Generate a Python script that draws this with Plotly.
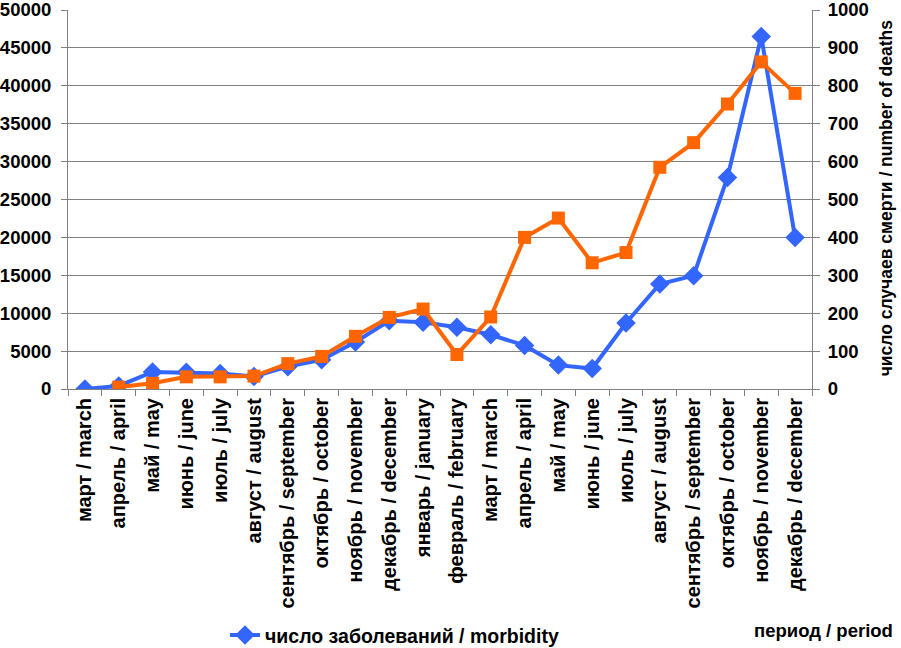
import plotly.graph_objects as go

months = ["март / march", "апрель / april", "май / may", "июнь / june", "июль / july",
          "август / august", "сентябрь / september", "октябрь / october", "ноябрь / november",
          "декабрь / december", "январь / january", "февраль / february",
          "март / march", "апрель / april", "май / may", "июнь / june", "июль / july",
          "август / august", "сентябрь / september", "октябрь / october", "ноябрь / november",
          "декабрь / december"]

morbidity = [0, 400, 2250, 2200, 2050, 1650, 2950, 3850, 6200, 9000, 8800, 8150,
             7150, 5750, 3150, 2700, 8700, 13850, 14950, 27900, 46500, 20000]

deaths = [None, 5, 15, 32, 32, 34, 67, 86, 139, 189, 211, 91,
          190, 400, 451, 333, 360, 585, 650, 752, 863, 780]

left_ticks = list(range(0, 50001, 5000))
right_ticks = list(range(0, 1001, 100))

idx = list(range(len(months)))
BLUE = "#3366FF"
ORANGE = "#FF6600"
FAM = "Liberation Sans, Arial, sans-serif"
FONT_X = dict(family=FAM, size=20, color="black", weight="bold")
FONT_Y = dict(family=FAM, size=18.5, color="black", weight="bold")
FONT_T = dict(family=FAM, size=17.5, color="black", weight="bold")
FONT_P = dict(family=FAM, size=18.5, color="black", weight="bold")
FONT_L = dict(family=FAM, size=19.5, color="black", weight="bold")

fig = go.Figure()
fig.add_trace(go.Scatter(
    x=idx, y=morbidity, mode="lines+markers", name="число заболеваний / morbidity",
    line=dict(color=BLUE, width=4), marker=dict(symbol="diamond", size=15, color=BLUE),
    yaxis="y"))
fig.add_trace(go.Scatter(
    x=idx, y=deaths, mode="lines+markers", name="число случаев смерти / number of deaths",
    line=dict(color=ORANGE, width=4), marker=dict(symbol="square", size=13, color=ORANGE),
    yaxis="y2", showlegend=False))

fig.update_layout(
    width=901, height=648,
    margin=dict(l=68, r=89, t=10, b=259, autoexpand=False),
    paper_bgcolor="white", plot_bgcolor="white",
    font=FONT_X,
    xaxis=dict(range=[-0.5, len(months) - 0.5], tickvals=idx, ticktext=months,
               tickangle=-90, ticks="", showgrid=False, zeroline=False,
               showline=True, linecolor="#808080", linewidth=1, automargin=False,
               tickfont=FONT_X,
               minor=dict(tick0=-0.5, dtick=1, ticks="outside", ticklen=6,
                          tickcolor="#808080", showgrid=False)),
    yaxis=dict(range=[0, 50001], tickvals=left_ticks, ticktext=[str(v) for v in left_ticks],
               ticks="outside", ticklen=6, ticklabeloverflow="allow", automargin=False,
               tickcolor="#808080", showline=True, linecolor="#808080", linewidth=1,
               gridcolor="#808080", gridwidth=1, zeroline=False, tickfont=FONT_Y,
               ticklabelstandoff=6),
    yaxis2=dict(range=[0, 1000.02], tickvals=right_ticks, ticktext=[str(v) for v in right_ticks],
                overlaying="y", side="right", ticklabeloverflow="allow", automargin=False,
                ticks="outside", ticklen=7, tickcolor="#808080", showline=True,
                linecolor="#808080", linewidth=1, showgrid=False, zeroline=False,
                tickfont=FONT_Y, ticklabelstandoff=4),
    showlegend=True,
    legend=dict(orientation="h", x=0.211, xanchor="left", y=-0.65, yanchor="middle",
                font=FONT_L, bgcolor="rgba(0,0,0,0)"),
    annotations=[
        dict(text="период / period", xref="paper", yref="paper", x=1.1116, y=-0.637,
             xanchor="right", yanchor="middle", showarrow=False, font=FONT_P),
        dict(text="число случаев смерти / number of deaths", xref="paper", yref="paper",
             x=1.1156, y=0.503, xanchor="right", yanchor="middle", textangle=-90,
             showarrow=False, font=FONT_T),
    ],
)

fig.write_html("out.html", config={"displayModeBar": False},
               post_script="document.body.style.margin='0';document.body.style.overflow='hidden';")
